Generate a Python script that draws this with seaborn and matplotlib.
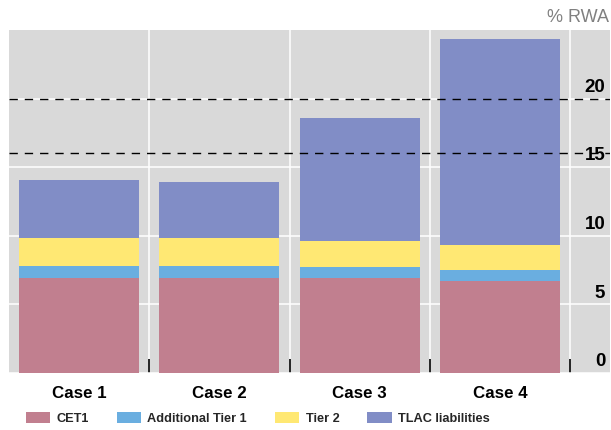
import matplotlib
matplotlib.use('Agg')
import matplotlib.pyplot as plt
from matplotlib.patches import Patch
import numpy as np
import seaborn as sns

# Data (% of RWA)
cases = ["Case 1", "Case 2", "Case 3", "Case 4"]
cet1 = [6.95, 6.95, 6.95, 6.7]
at1 = [0.85, 0.85, 0.8, 0.8]
tier2 = [2.05, 2.05, 1.9, 1.8]
tlac = [4.25, 4.05, 8.95, 15.05]
thresholds = [16, 20]
yticks = [0, 5, 10, 15, 20]

layer_names = ["CET1", "Additional Tier 1", "Tier 2", "TLAC liabilities"]
layer_colors = ["#c17f8f", "#6aaee0", "#ffe873", "#818dc6"]

sns.set_theme(style="darkgrid", rc={
    "axes.facecolor": "#d9d9d9",
    "grid.color": "white",
    "grid.linewidth": 1.1,
})
plt.rcParams['font.family'] = ['Liberation Sans', 'DejaVu Sans']

fig = plt.figure(figsize=(6.11, 4.30), dpi=100)
ax = fig.add_axes([9 / 611, 57 / 430, 601 / 611, 343 / 430])

# stacked bars: draw the cumulative totals, tallest first
layers = np.array([cet1, at1, tier2, tlac])
cum = np.cumsum(layers, axis=0)
for i in range(len(layers) - 1, -1, -1):
    sns.barplot(x=cases, y=cum[i], color=layer_colors[i], saturation=1,
                width=0.857, ax=ax, linewidth=0)

for t in thresholds:
    ax.axhline(t, color="black", lw=1.0, dashes=(6, 5), zorder=5)

ax.set_xlim(-0.5, 3.785)
ax.set_ylim(0, 25)
ax.set_axisbelow(True)
for s in ax.spines.values():
    s.set_visible(False)

ax.set_yticks(yticks)
ax.tick_params(axis="y", left=False, right=False, labelleft=False, labelright=False)
ax.set_xticks(range(len(cases)))
ax.set_xticklabels(cases, fontsize=12.2, fontweight="bold")
ax.set_xticks(np.arange(0.5, 4, 1), minor=True)
ax.tick_params(axis="x", which="major", length=0, pad=9, colors="black")
ax.tick_params(axis="x", which="minor", bottom=True, direction="in", length=10,
               width=1.2, color="black")
ax.grid(False, axis="x", which="major")
ax.grid(True, axis="x", which="minor", color="white", lw=1.1)
ax.grid(True, axis="y", which="major")
ax.set_xlabel("")
ax.set_ylabel("")

# value labels sit just above their gridlines, inside the plot on the right
for v in yticks:
    ax.annotate(f"{v}", xy=(0.992, v), xycoords=ax.get_yaxis_transform(),
                xytext=(0, 2), textcoords="offset points", ha="right",
                va="bottom", fontsize=13.5, fontweight="bold", color="black",
                zorder=6)

fig.text(609 / 611, 1 - 17 / 430, "% RWA", ha="right", va="center",
         fontsize=13, color="#808080")

handles = [Patch(facecolor=c, edgecolor="none") for c in layer_colors]
fig.legend(handles, layer_names, loc="center", bbox_to_anchor=(0.422, 0.027),
           ncol=4, frameon=False, handlelength=1.9, handleheight=1.0,
           handletextpad=0.48, columnspacing=2.2,
           prop={"weight": "bold", "size": 9.2})

fig.savefig("out.png", dpi=100)
